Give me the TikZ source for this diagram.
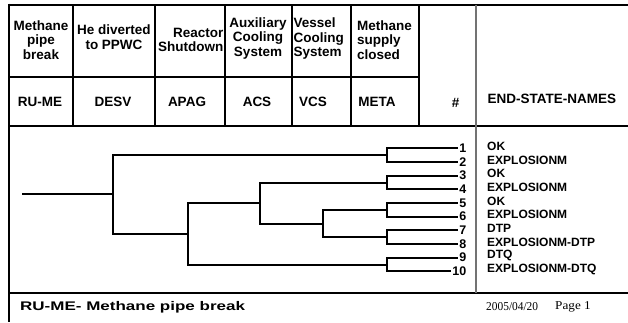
\documentclass[tikz,border=0pt]{standalone}
\usepackage{fontspec}
\setmainfont{Liberation Sans}
\newfontfamily\seriffont{Liberation Serif}
\usepackage{graphicx}
\begin{document}
\begin{tikzpicture}[x=1pt,y=-1pt,
  frame/.style={line width=2pt,black},
  thinframe/.style={line width=1.6pt,black},
  greysep/.style={line width=1.2pt,black!55},
  hdr/.style={font=\fontsize{13.5}{14.5}\selectfont\bfseries,inner sep=0pt},
  code/.style={font=\fontsize{13.5}{15}\selectfont\bfseries,inner sep=0pt},
  num/.style={font=\fontsize{12.5}{13}\selectfont\bfseries,inner xsep=2.5pt,inner ysep=0pt,anchor=east},
  esname/.style={font=\fontsize{12}{13}\selectfont\bfseries,inner sep=0pt,anchor=west},
  branch/.style={line width=2pt,black,line join=miter,line cap=rect}]
\useasboundingbox (0,0) rectangle (628,322);
\fill[white] (0,0) rectangle (628,322);
% frame
\draw[frame] (9,4.5) -- (628,4.5);
\draw[frame] (9,3.6) -- (9,322);
\draw[thinframe] (9,77) -- (419,77);
\draw[thinframe] (9,126) -- (628,126);
\draw[thinframe] (9,293) -- (628,293);
\foreach \xx in {73,155,225,292,351,419} \draw[thinframe] (\xx,4.5) -- (\xx,126);
\draw[greysep] (476,4.5) -- (476,293);
% header texts
\node[hdr,align=center] (h1) at (41,40) {Methane\\pipe\\break};
\node[hdr,align=center] (h2) at (114,37) {He diverted\\to PPWC};
\node[hdr,align=right,anchor=east] (h3) at (223.5,40) {Reactor\\Shutdown};
\node[hdr,align=center] (h4) at (258,38.5) {Auxiliary\\Cooling\\System};
\node[hdr,align=left,anchor=west] (h5) at (293.5,39) {Vessel\\Cooling\\System};
\node[hdr,align=left,anchor=west] (h6) at (357,40) {Methane\\supply\\closed};
% code row
\node[code] (c1) at (40,102) {RU-ME};
\node[code] (c2) at (113,102) {DESV};
\node[code] (c3) at (187,102) {APAG};
\node[code] (c4) at (257,102) {ACS};
\node[code] (c5) at (313,102) {VCS};
\node[code] (c6) at (377,102) {META};
\node[code] (c7) at (455.5,103) {\#};
\node[code,anchor=west] (c8) at (487.5,98.5) {END-STATE-NAMES};
% numbers and end states
\foreach \k/\nm in {1/OK,2/EXPLOSIONM,3/OK,4/EXPLOSIONM,5/OK,6/EXPLOSIONM,7/DTP,8/EXPLOSIONM-DTP,9/DTQ,10/EXPLOSIONM-DTQ}{
  \pgfmathsetmacro{\yy}{148.3+(\k-1)*13.67}
  \node[num] (n\k) at (469,\yy) {\k};
  \node[esname] (e\k) at (487,\yy-2) {\nm};
}
% tree coordinates
\coordinate (root) at (23,194.4);
\coordinate (j1) at (113,194.4);
\coordinate (j2) at (188,233.7);
\coordinate (j3) at (260,203);
\coordinate (j4) at (323,223.5);
\coordinate (p12) at (387,155.1);
\coordinate (p34) at (387,182.5);
\coordinate (p56) at (387,209.8);
\coordinate (p78) at (387,237.1);
\coordinate (p910) at (387,264.5);
% tree
\draw[branch] (root) -- (j1);
\draw[branch] (p12) -| (j1) |- (j2);
\draw[branch] (j3) -| (j2) |- (p910);
\draw[branch] (p34) -| (j3) |- (j4);
\draw[branch] (p56) -| (j4) |- (p78);
\foreach \a/\b/\c in {p12/n1/n2,p34/n3/n4,p56/n5/n6,p78/n7/n8,p910/n9/n10}{
  \draw[branch] (\b.west) -| (\a) |- (\c.west);
}
% footer
\node[font=\fontsize{12.5}{13}\selectfont\bfseries,anchor=west,inner sep=0pt] (f1) at (20,307.5) {\scalebox{1.36}[1]{RU-ME- Methane pipe break}};
\node[font=\fontsize{12}{13}\selectfont\seriffont,anchor=west,inner sep=0pt] (f2) at (486,306.5) {\scalebox{0.95}[1]{2005/04/20}};
\node[font=\fontsize{12}{13}\selectfont\seriffont,anchor=west,inner sep=0pt] (f3) at (555,306.5) {\scalebox{1.1}[1]{Page 1}};
\end{tikzpicture}
\end{document}
